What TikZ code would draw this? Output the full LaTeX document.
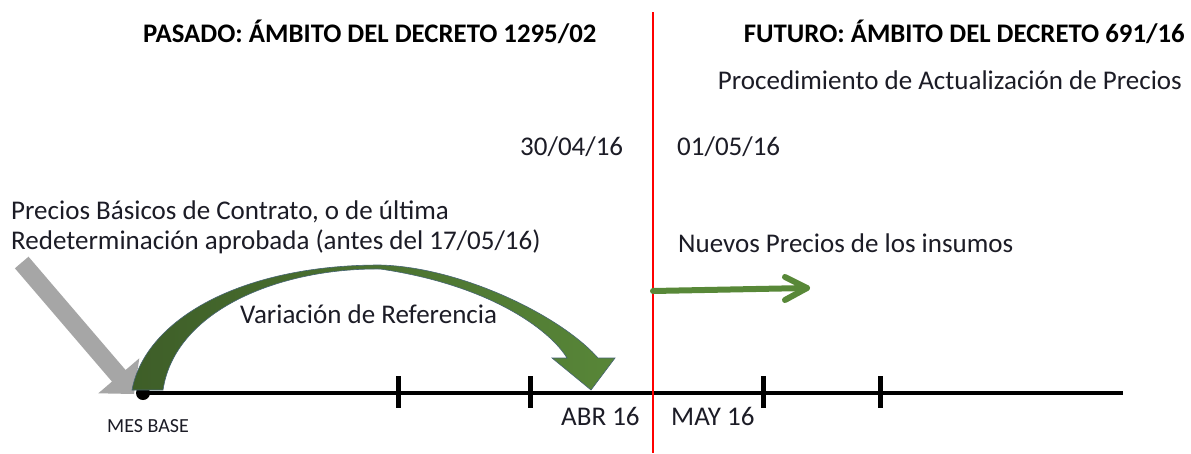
\documentclass[tikz,border=0pt]{standalone}
\usepackage{fontspec}
\setmainfont{Carlito}
\usetikzlibrary{calc}
\definecolor{txt}{RGB}{28,28,38}
\definecolor{garrowdark}{RGB}{62,94,40}
\definecolor{garrowlight}{RGB}{88,134,56}
\definecolor{gedge}{RGB}{70,100,115}
\definecolor{grayarrow}{RGB}{166,166,166}
\definecolor{smallgreen}{RGB}{88,136,56}
\tikzset{
  reg/.style={font=\fontsize{27}{32}\selectfont, text=txt, inner sep=0pt},
  ttl/.style={font=\fontsize{26.8}{32}\selectfont\bfseries, text=black, inner sep=0pt},
  small/.style={font=\fontsize{20}{24}\selectfont, text=txt, inner sep=0pt},
  tick/.style={line width=5pt},
  axisline/.style={line width=4pt},
}
\begin{document}
\begin{tikzpicture}[x=1pt,y=-1pt]
\useasboundingbox (0,0) rectangle (1191,453);
\fill[white] (0,0) rectangle (1191,453);

% titles
\node[ttl, anchor=base west] (t1) at (143,42) {PASADO: ÁMBITO DEL DECRETO 1295/02};
\node[ttl, anchor=base east] (t2) at (1185,42) {FUTURO: ÁMBITO DEL DECRETO 691/16};
\node[reg, anchor=base east] (proc) at (1182,89) {Procedimiento de Actualización de Precios};
\node[reg, anchor=base west] (d1) at (520,155) {30/04/16};
\node[reg, anchor=base west] (d2) at (677,155) {01/05/16};
\node[reg, anchor=base west] (pb1) at (11,219) {Precios Básicos de Contrato, o de última};
\node[reg, anchor=base west] (pb2) at (11,249) {Redeterminación aprobada (antes del 17/05/16)};
\node[reg, anchor=base west] (np) at (678,252) {Nuevos Precios de los insumos};
\node[reg, anchor=base west] (vr) at (240,323) {Variación de Referencia};
\node[small, anchor=base west] (mb) at (107,432) {MES BASE};
\node[reg, anchor=base west] (abr) at (561,425) {ABR 16};
\node[reg, anchor=base west] (may) at (671,425) {MAY 16};

% key coordinates
\coordinate (base) at (143,393);
\coordinate (tlend) at (1123,393);
\coordinate (redtop) at (653,12);
\coordinate (redbot) at (653,453);
\coordinate (gs) at (653,291);
\coordinate (ge) at (807,288);

% gray arrow
\fill[grayarrow] (14.9,268.3) -- (112,381.6) -- (98.3,393.3) -- (134,394)
  -- (139.3,358.3) -- (125.6,370) -- (28.5,256.7) -- cycle;

% timeline
\fill[black] (base) circle (7);
\draw[axisline] (base) -- (tlend);
\foreach \x in {398,530,763,880} \draw[tick] (\x,376) -- (\x,408);

% green curved arrow
\draw[gedge, line width=0.6pt, left color=garrowdark, right color=garrowlight]
  (132,390) .. controls (145,320) and (240,265) .. (380,265)
  .. controls (460,267) and (560,315) .. (598,358)
  -- (615,358) -- (591,390) -- (552,358) -- (567,358)
  .. controls (550,330) and (490,285) .. (380,269)
  .. controls (280,268) and (175,310) .. (163,390) -- cycle;

% red divider
\draw[red, line width=2.5pt] (redtop) -- (redbot);

% small green arrow
\draw[smallgreen, line width=6pt, line cap=round] (gs) -- (ge);
\draw[smallgreen, line width=6pt, line cap=round, line join=round]
  ($(ge)+(-22,-11)$) -- (ge) -- ($(ge)+(-22,12)$);
\end{tikzpicture}
\end{document}
